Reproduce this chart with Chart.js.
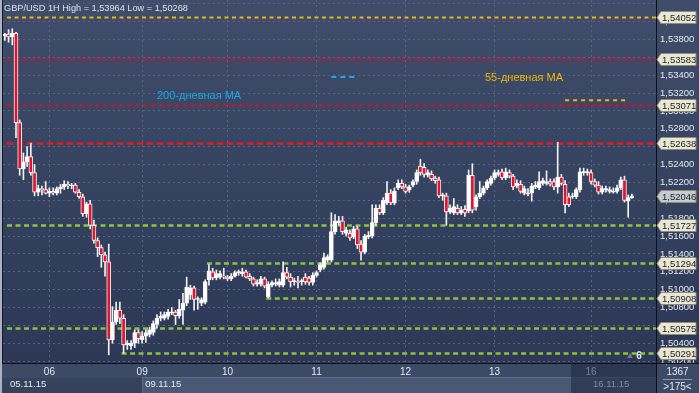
<!DOCTYPE html>
<html>
<head>
<meta charset="utf-8">
<script src="https://cdn.jsdelivr.net/npm/chart.js@4.4.0/dist/chart.umd.min.js"></script>
<style>
  html, body { margin: 0; padding: 0; background: #2f3b56; }
  canvas { display: block; }
</style>
</head>
<body>
<canvas id="chart" width="699" height="393"></canvas>
<script>
// GBP/USD 1H candles
const title = "GBP/USD 1H High = 1,53964 Low = 1,50268";
const slots = 176;
const dayLabels = ["06", "09", "10", "11", "12", "13", "16"];
const dayStart = [12, 37, 60, 84, 108, 132, 158];
const dateLabels = ["05.11.15", "09.11.15", "16.11.15"];

const open = [
  1.5384,1.5386,1.5383,1.5387,1.5287,1.5235,1.5243,1.5249,1.5231,1.5209,
  1.5213,1.5212,1.5208,1.5210,1.5208,1.5213,1.5215,1.5218,1.5216,1.5217,
  1.5209,1.5204,1.5185,1.5196,1.5172,1.5155,1.5147,1.5139,1.5131,1.5044,
  1.5064,1.5077,1.5068,1.5038,1.5037,1.5040,1.5052,1.5044,1.5048,1.5050,
  1.5052,1.5061,1.5068,1.5068,1.5070,1.5074,1.5075,1.5071,1.5077,1.5085,
  1.5094,1.5102,1.5089,1.5085,1.5086,1.5111,1.5120,1.5113,1.5114,1.5115,
  1.5114,1.5112,1.5115,1.5119,1.5118,1.5120,1.5115,1.5112,1.5106,1.5106,
  1.5112,1.5092,1.5105,1.5106,1.5105,1.5105,1.5119,1.5114,1.5109,1.5109,
  1.5109,1.5114,1.5113,1.5108,1.5116,1.5122,1.5125,1.5133,1.5133,1.5165,
  1.5175,1.5177,1.5163,1.5163,1.5159,1.5168,1.5151,1.5142,1.5159,1.5160,
  1.5175,1.5191,1.5186,1.5197,1.5208,1.5197,1.5214,1.5219,1.5215,1.5212,
  1.5217,1.5221,1.5238,1.5237,1.5228,1.5229,1.5225,1.5223,1.5205,1.5205,
  1.5187,1.5186,1.5191,1.5186,1.5190,1.5188,1.5228,1.5193,1.5204,1.5208,
  1.5214,1.5219,1.5225,1.5229,1.5232,1.5225,1.5231,1.5227,1.5216,1.5218,
  1.5208,1.5207,1.5208,1.5215,1.5214,1.5219,1.5219,1.5221,1.5221,1.5215,
  1.5226,1.5218,1.5204,1.5204,1.5204,1.5212,1.5231,1.5231,1.5231,1.5221,
  1.5217,1.5209,1.5212,1.5210,1.5209,1.5210,1.5214,1.5223,1.5199,1.5203
];
const high = [
  1.5387,1.5391,1.5392,1.5388,1.5290,1.5253,1.5260,1.5264,1.5240,1.5217,
  1.5216,1.5221,1.5214,1.5214,1.5215,1.5218,1.5222,1.5221,1.5219,1.5219,
  1.5212,1.5207,1.5198,1.5200,1.5178,1.5158,1.5150,1.5142,1.5151,1.5081,
  1.5086,1.5086,1.5072,1.5043,1.5043,1.5055,1.5055,1.5053,1.5055,1.5058,
  1.5065,1.5072,1.5075,1.5075,1.5078,1.5080,1.5077,1.5089,1.5096,1.5114,
  1.5105,1.5104,1.5092,1.5091,1.5111,1.5128,1.5124,1.5122,1.5121,1.5124,
  1.5116,1.5118,1.5121,1.5122,1.5124,1.5122,1.5118,1.5114,1.5111,1.5115,
  1.5114,1.5109,1.5110,1.5112,1.5112,1.5131,1.5125,1.5118,1.5113,1.5115,
  1.5112,1.5118,1.5115,1.5119,1.5121,1.5130,1.5141,1.5139,1.5186,1.5184,
  1.5182,1.5182,1.5170,1.5167,1.5171,1.5171,1.5155,1.5162,1.5165,1.5195,
  1.5195,1.5195,1.5203,1.5221,1.5212,1.5214,1.5223,1.5223,1.5218,1.5217,
  1.5223,1.5234,1.5246,1.5241,1.5234,1.5233,1.5227,1.5226,1.5208,1.5208,
  1.5195,1.5202,1.5195,1.5193,1.5194,1.5234,1.5241,1.5206,1.5221,1.5216,
  1.5223,1.5227,1.5234,1.5234,1.5235,1.5236,1.5234,1.5229,1.5223,1.5222,
  1.5216,1.5213,1.5219,1.5221,1.5232,1.5225,1.5233,1.5224,1.5224,1.5265,
  1.5229,1.5222,1.5208,1.5208,1.5214,1.5236,1.5236,1.5235,1.5234,1.5224,
  1.5221,1.5216,1.5216,1.5215,1.5214,1.5217,1.5226,1.5227,1.5206,1.5207
];
const low = [
  1.5379,1.5377,1.5374,1.5270,1.5228,1.5223,1.5238,1.5228,1.5205,1.5205,
  1.5206,1.5207,1.5204,1.5206,1.5206,1.5208,1.5212,1.5213,1.5213,1.5208,
  1.5202,1.5182,1.5181,1.5168,1.5152,1.5137,1.5125,1.5115,1.5027,1.5040,
  1.5061,1.5062,1.5029,1.5033,1.5033,1.5035,1.5040,1.5040,1.5041,1.5047,
  1.5049,1.5057,1.5065,1.5066,1.5067,1.5072,1.5061,1.5068,1.5061,1.5082,
  1.5089,1.5077,1.5078,1.5082,1.5084,1.5105,1.5111,1.5111,1.5112,1.5112,
  1.5110,1.5110,1.5114,1.5116,1.5115,1.5113,1.5110,1.5104,1.5104,1.5104,
  1.5102,1.5091,1.5103,1.5104,1.5103,1.5103,1.5112,1.5103,1.5105,1.5102,
  1.5105,1.5106,1.5105,1.5105,1.5114,1.5120,1.5123,1.5131,1.5131,1.5162,
  1.5172,1.5162,1.5160,1.5155,1.5157,1.5146,1.5133,1.5140,1.5157,1.5158,
  1.5172,1.5184,1.5184,1.5195,1.5195,1.5195,1.5212,1.5213,1.5208,1.5209,
  1.5215,1.5218,1.5228,1.5226,1.5226,1.5222,1.5219,1.5203,1.5200,1.5172,
  1.5185,1.5184,1.5184,1.5184,1.5182,1.5186,1.5186,1.5189,1.5202,1.5206,
  1.5212,1.5217,1.5223,1.5227,1.5223,1.5223,1.5225,1.5212,1.5214,1.5208,
  1.5206,1.5205,1.5199,1.5213,1.5212,1.5217,1.5217,1.5216,1.5212,1.5208,
  1.5217,1.5186,1.5193,1.5202,1.5202,1.5209,1.5228,1.5228,1.5218,1.5215,
  1.5207,1.5207,1.5209,1.5208,1.5208,1.5208,1.5212,1.5198,1.5181,1.5202
];
const close = [
  1.5386,1.5383,1.5387,1.5287,1.5235,1.5243,1.5249,1.5231,1.5209,1.5213,
  1.5212,1.5208,1.5210,1.5208,1.5213,1.5215,1.5218,1.5216,1.5217,1.5209,
  1.5204,1.5185,1.5196,1.5172,1.5155,1.5147,1.5139,1.5131,1.5044,1.5064,
  1.5077,1.5068,1.5038,1.5040,1.5040,1.5052,1.5045,1.5048,1.5052,1.5055,
  1.5062,1.5068,1.5070,1.5072,1.5075,1.5075,1.5071,1.5078,1.5085,1.5103,
  1.5102,1.5089,1.5090,1.5089,1.5109,1.5121,1.5113,1.5118,1.5118,1.5114,
  1.5112,1.5115,1.5119,1.5120,1.5120,1.5114,1.5112,1.5106,1.5108,1.5112,
  1.5104,1.5106,1.5108,1.5108,1.5109,1.5119,1.5114,1.5109,1.5110,1.5108,
  1.5110,1.5109,1.5108,1.5116,1.5119,1.5128,1.5136,1.5137,1.5165,1.5177,
  1.5177,1.5165,1.5167,1.5158,1.5168,1.5150,1.5142,1.5160,1.5161,1.5175,
  1.5191,1.5186,1.5200,1.5208,1.5197,1.5210,1.5219,1.5215,1.5210,1.5215,
  1.5221,1.5231,1.5231,1.5229,1.5231,1.5224,1.5222,1.5205,1.5206,1.5187,
  1.5191,1.5193,1.5186,1.5189,1.5186,1.5228,1.5189,1.5204,1.5208,1.5214,
  1.5221,1.5225,1.5231,1.5231,1.5225,1.5232,1.5227,1.5215,1.5219,1.5210,
  1.5213,1.5208,1.5216,1.5217,1.5221,1.5222,1.5221,1.5218,1.5215,1.5226,
  1.5219,1.5195,1.5195,1.5205,1.5212,1.5232,1.5232,1.5232,1.5221,1.5217,
  1.5209,1.5213,1.5213,1.5212,1.5210,1.5214,1.5223,1.5200,1.5203,1.5205
];

// horizontal levels
const resistLevels = [1.54052, 1.53583, 1.53071, 1.52638];
const supportLevels = [1.51727, 1.51294, 1.50908, 1.50575, 1.50291];
const supportFrom = [0, 55, 71, 0, 32];
const lastPrice = 1.52046;

// moving average markers
const ma200 = 1.5338, ma200Range = [88, 95];
const ma55 = 1.5312, ma55Range = [151, 168];

const fmt = (v) => v.toFixed(5).replace(".", ",");
const FONT = "'Liberation Sans', Arial, sans-serif";

const bgPlugin = {
  id: "bg",
  beforeDraw(chart) {
    const { ctx, chartArea: a, width, height } = chart;
    ctx.save();
    const g = ctx.createLinearGradient(0, 0, 0, a.bottom);
    g.addColorStop(0, "#3f4d6b");
    g.addColorStop(1, "#2c3855");
    ctx.fillStyle = g;
    ctx.fillRect(0, 0, width, a.bottom);
    // x axis band
    ctx.fillStyle = "#3d4a66";
    ctx.fillRect(0, a.bottom, width, height - a.bottom);
    const x09 = chart.scales.x.getPixelForValue(dayStart[1]);
    ctx.fillStyle = "#36425c";
    ctx.fillRect(0, a.bottom + 15, x09, height - a.bottom - 15);
    ctx.fillStyle = "#4a5875";
    ctx.fillRect(x09, a.bottom + 15, a.right - x09, height - a.bottom - 15);
    ctx.fillStyle = "#5d6b88";
    ctx.fillRect(x09, a.bottom + 14, a.right - x09, 1);
    ctx.fillRect(x09, a.bottom + 14, 1, height - a.bottom - 14);
    ctx.restore();
  },
  beforeDatasetsDraw(chart) {
    const { ctx, chartArea: a, scales } = chart;
    const y = scales.y, x = scales.x;
    ctx.save();
    ctx.beginPath();
    ctx.rect(a.left, a.top, a.right - a.left, a.bottom - a.top);
    ctx.clip();
    const line = (v, x0, color, w, dash) => {
      const py = Math.round(y.getPixelForValue(v)) + 0.5;
      ctx.strokeStyle = color;
      ctx.lineWidth = w;
      ctx.setLineDash(dash);
      ctx.beginPath();
      ctx.moveTo(x0, py);
      ctx.lineTo(a.right, py);
      ctx.stroke();
    };
    resistLevels.forEach((v, i) => {
      if (i === 0) line(v, a.left + 4, "#efb312", 2, [4, 3.5]);
      else if (i === 3) line(v, a.left + 4, "#f41414", 2.5, [6, 4]);
      else line(v, a.left + 4, "#c5142c", 2.5, [4, 4]);
    });
    supportLevels.forEach((v, i) => {
      const x0 = supportFrom[i] === 0 ? a.left + 4 : x.getPixelForValue(supportFrom[i]) - 2;
      line(v, x0, "#8cc43f", 2.5, [5, 3.5]);
    });
    ctx.restore();
  },
  afterDraw(chart) {
    const { ctx, chartArea: a, scales, width, height } = chart;
    const y = scales.y, x = scales.x;
    ctx.save();
    // dim the last day on the time axis
    const x16 = x.getPixelForValue(dayStart[6]) - 20;
    ctx.fillStyle = "rgba(30,40,62,0.55)";
    ctx.fillRect(x16, a.bottom + 1, a.right - x16, height - a.bottom);
    // second-row dates
    ctx.font = "9.5px " + FONT;
    ctx.textBaseline = "middle";
    ctx.textAlign = "left";
    ctx.fillStyle = "#e4e8ef";
    ctx.fillText(dateLabels[0], 10, a.bottom + 21);
    ctx.fillText(dateLabels[1], x.getPixelForValue(dayStart[1]) + 3, a.bottom + 21);
    ctx.fillStyle = "#7f8aa0";
    ctx.fillText(dateLabels[2], x.getPixelForValue(dayStart[6]) + 2, a.bottom + 21);

    // frame lines
    ctx.fillStyle = "#0c0f16";
    ctx.fillRect(a.right, 0, 1, height);
    ctx.fillRect(0, a.bottom, width, 1);
    ctx.fillStyle = "#aab2c1";
    ctx.fillRect(0, 0, 2, height);
    ctx.fillStyle = "#141822";
    ctx.fillRect(2, 0, 1, a.bottom);

    // title
    ctx.font = "9.2px " + FONT;
    ctx.fillStyle = "#dfe3ea";
    ctx.fillText(title, 4, 8);

    // MA captions
    ctx.font = "11px " + FONT;
    ctx.fillStyle = "#19a8e8";
    ctx.fillText("200-дневная МА", 157, 96);
    ctx.fillStyle = "#f3b605";
    ctx.fillText("55-дневная МА", 485, 78);

    // price tags on the right axis
    const tag = (v, fill) => {
      const py = Math.round(y.getPixelForValue(v)) + 0.5;
      const x0 = a.right + 1, x1 = width - 3, h = 12;
      ctx.beginPath();
      ctx.moveTo(x0, py);
      ctx.lineTo(x0 + 4, py - h / 2);
      ctx.lineTo(x1, py - h / 2);
      ctx.lineTo(x1, py + h / 2);
      ctx.lineTo(x0 + 4, py + h / 2);
      ctx.closePath();
      ctx.fillStyle = fill;
      ctx.fill();
      ctx.strokeStyle = "#8c8c7c";
      ctx.lineWidth = 1;
      ctx.stroke();
      ctx.fillStyle = "#1b1f2a";
      ctx.font = "9.5px " + FONT;
      ctx.textAlign = "left";
      ctx.fillText(fmt(v), x0 + 5, py + 0.5);
    };
    resistLevels.concat(supportLevels).forEach((v) => tag(v, "#e9e7d2"));
    tag(lastPrice, "#c6c9cd");

    // bar counter box
    ctx.font = "10px " + FONT;
    ctx.textAlign = "center";
    ctx.fillStyle = "#e4e8ef";
    ctx.fillText("1367", (a.right + width) / 2, a.bottom + 9);
    ctx.fillText(">175<", (a.right + width) / 2, a.bottom + 24);
    ctx.fillStyle = "#8d96a8";
    ctx.fillRect(a.right + 7, a.bottom + 16, width - a.right - 14, 1);

    // small marker near the last candle
    ctx.fillStyle = "#6f7a90";
    ctx.beginPath();
    ctx.moveTo(627, a.bottom - 5);
    ctx.lineTo(630, a.bottom - 10);
    ctx.lineTo(633, a.bottom - 5);
    ctx.fill();
    ctx.fillStyle = "#e4e8ef";
    ctx.font = "bold 10px " + FONT;
    ctx.fillText("6", 639, a.bottom - 7);
    ctx.restore();
  }
};

const bodies = open.map((o, i) => ({ x: i, y: [o, close[i]] }));
const wicks = low.map((l, i) => ({ x: i, y: [l, high[i]] }));

new Chart(document.getElementById("chart"), {
  data: {
    datasets: [
      {
        type: "bar",
        data: bodies,
        backgroundColor: open.map((o, i) => (close[i] >= o ? "#ffffff" : "#e5122d")),
        borderColor: "#f4f4f4",
        borderWidth: 1,
        borderSkipped: false,
        barThickness: 4,
        minBarLength: 1,
        grouped: false,
        order: 0
      },
      {
        type: "bar",
        data: wicks,
        backgroundColor: "#f2f2f2",
        barThickness: 1,
        grouped: false,
        order: 1
      },
      {
        type: "line",
        data: [{ x: ma200Range[0], y: ma200 }, { x: ma200Range[1], y: ma200 }],
        borderColor: "#19a8e8",
        borderWidth: 2,
        borderDash: [5, 4],
        pointRadius: 0,
        order: 2
      },
      {
        type: "line",
        data: [{ x: ma55Range[0], y: ma55 }, { x: ma55Range[1], y: ma55 }],
        borderColor: "#f3b605",
        borderWidth: 2,
        borderDash: [4, 4],
        pointRadius: 0,
        order: 2
      }
    ]
  },
  options: {
    responsive: false,
    animation: false,
    devicePixelRatio: 1,
    layout: { padding: { left: 3, top: 0, right: 0, bottom: 0 } },
    plugins: { legend: { display: false }, tooltip: { enabled: false } },
    scales: {
      x: {
        type: "linear",
        offset: false,
        min: -0.5,
        max: slots - 0.5,
        afterBuildTicks: (s) => { s.ticks = dayStart.map((v) => ({ value: v })); },
        afterFit: (s) => {
          s.height = 30;
          s.paddingLeft = 0;
          s.paddingRight = 0;
        },
        ticks: {
          autoSkip: false,
          maxRotation: 0,
          padding: 3,
          color: "#e4e8ef",
          font: { family: FONT, size: 10 },
          callback: (v) => dayLabels[dayStart.indexOf(v)]
        },
        grid: { color: "#56647f", drawTicks: false, offset: false },
        border: { display: false, dash: [2, 3] }
      },
      y: {
        position: "right",
        min: 1.50179,
        max: 1.54242,
        afterFit: (s) => {
          s.width = 43;
          s.paddingTop = 0;
          s.paddingBottom = 0;
        },
        ticks: {
          stepSize: 0.002,
          includeBounds: false,
          padding: 4,
          color: "#e4e8ef",
          font: { family: FONT, size: 9.5 },
          callback: (v) => (v > 1.541 ? "" : fmt(v))
        },
        grid: { color: "#56647f", drawTicks: false },
        border: { display: false, dash: [2, 3] }
      }
    }
  },
  plugins: [bgPlugin]
});
</script>
</body>
</html>
